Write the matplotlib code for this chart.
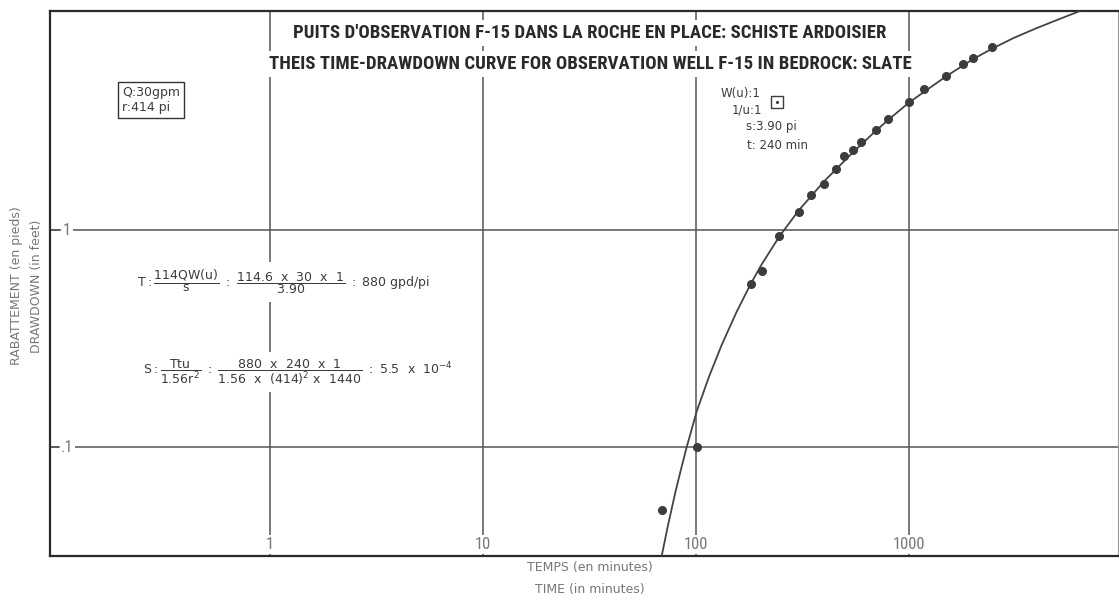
import matplotlib
matplotlib.use("Agg")
from matplotlib import pyplot as plt
from matplotlib import font_manager

# temps (minutes) et rabattement (pieds) mesurés au puits F-15
temps = [69, 100.7, 181, 203, 246, 303, 347, 399, 455, 494, 545, 592,
         700, 798, 1000, 1180, 1497, 1790, 2000, 2450]
rabattement = [0.0513, 0.100, 0.568, 0.65, 0.94, 1.215, 1.46, 1.63, 1.92, 2.20,
               2.35, 2.54, 2.91, 3.27, 3.90, 4.49, 5.14, 5.87, 6.24, 7.01]

# courbe type de Theis calée sur les mesures
courbe_t = [66, 69, 74, 80, 85, 90.4, 100.7, 115, 132, 155, 181, 203, 246, 303,
            399, 544, 700, 800, 1000, 1500, 2000, 2440, 3100, 3975, 5000, 6350, 9000]
courbe_s = [0.026, 0.0315, 0.044, 0.062, 0.079, 0.100, 0.146, 0.211, 0.296, 0.42,
            0.568, 0.694, 0.935, 1.232, 1.68, 2.28, 2.88, 3.23, 3.88, 5.14, 6.15,
            6.85, 7.70, 8.55, 9.35, 10.25, 11.8]

# point de calage W(u)=1, 1/u=1
match_t = 240
match_s = 3.90

xticks = [1, 10, 100, 1000]
xtick_labels = ["1", "10", "100", "1000"]
yticks = [0.1, 1]
ytick_labels = [".1", "1"]

available = {f.name for f in font_manager.fontManager.ttflist}
narrow = next((f for f in ["Liberation Sans Narrow", "Roboto Condensed", "DejaVu Sans"]
               if f in available), "DejaVu Sans")

ink = "#3c3c3c"
grid = "#555555"
white_box = dict(facecolor="white", edgecolor="none", pad=1.5)

fig = plt.figure(figsize=(11.19, 6.02), dpi=100)
ax = fig.add_axes([50 / 1119, 1 - 556 / 602, 1068 / 1119, 545 / 602])
ax.set_xscale("log")
ax.set_yscale("log")
ax.set_xlim(0.0927, 9575)
ax.set_ylim(0.0315, 10.25)

for v in xticks:
    ax.axvline(v, color=grid, lw=1.1, zorder=1)
for v in yticks:
    ax.axhline(v, color=grid, lw=1.1, zorder=1)

ax.set_xticks([])
ax.set_yticks([])
ax.minorticks_off()
for s in ax.spines.values():
    s.set_color("#2a2a2a")
    s.set_linewidth(1.6)
ax.spines["right"].set_color("#999999")
ax.spines["right"].set_linewidth(0.8)

ax.plot(courbe_t, courbe_s, color="#444444", lw=1.3, zorder=3)
ax.plot(temps, rabattement, "o", color=ink, ms=5.5, zorder=4)
ax.plot(match_t, match_s, "s", mfc="white", mec=ink, mew=1.0, ms=9, zorder=4)
ax.plot(match_t, match_s, ".", color=ink, ms=2.5, zorder=5)

# étiquettes des axes dessinées dans le cadre
for v, lab in zip(xticks, xtick_labels):
    ax.text(v, 0.021, lab, transform=ax.get_xaxis_transform(), ha="center", va="center",
            fontsize=12, family=narrow, color="#777777", bbox=white_box, zorder=2)
for v, lab in zip(yticks, ytick_labels):
    ax.text(0.016, v, lab, transform=ax.get_yaxis_transform(), ha="center", va="center",
            fontsize=12, family=narrow, color="#777777", bbox=white_box, zorder=2)
    ax.plot([0, 0.008], [v, v], transform=ax.get_yaxis_transform(), color=grid, lw=1.1)

title_kw = dict(transform=ax.transAxes, ha="center", va="center", fontsize=13.5,
                fontweight="bold", family=narrow, color="#2a2a2a", zorder=6,
                bbox=dict(facecolor="white", edgecolor="none", pad=3))
ax.text(0.5056, 0.9596, "PUITS D'OBSERVATION F-15 DANS LA ROCHE EN PLACE: SCHISTE ARDOISIER", **title_kw)
ax.text(0.5056, 0.9028, "THEIS TIME-DRAWDOWN CURVE FOR OBSERVATION WELL F-15 IN BEDROCK: SLATE", **title_kw)

ax.text(0.0674, 0.8367, "Q:30gpm\nr:414 pi", transform=ax.transAxes, ha="left", va="center",
        fontsize=9, color=ink, linespacing=1.2,
        bbox=dict(facecolor="white", edgecolor="#333333", lw=1.0, pad=3))

small = dict(transform=ax.transAxes, ha="left", va="center", fontsize=8.5, color=ink, zorder=6)
ax.text(0.628, 0.8495, "W(u):1", **small)
ax.text(0.6385, 0.8183, "1/u:1", **small)
ax.text(0.6516, 0.7872, "s:3.90 pi", **small)
ax.text(0.6526, 0.7523, "t: 240 min", **small)

plt.rcParams["mathtext.fontset"] = "dejavusans"
formula_kw = dict(transform=ax.transAxes, ha="left", va="center", fontsize=9, color=ink,
                  zorder=6, bbox=dict(facecolor="white", edgecolor="none", pad=4))
ax.text(0.0815, 0.5028,
        r"$\mathrm{T:}\dfrac{\mathrm{114QW(u)}}{\mathrm{s}}\ \mathrm{:}\ "
        r"\dfrac{\mathrm{114.6\ \ x\ \ 30\ \ x\ \ 1}}{\mathrm{3.90}}\ \mathrm{:\ 880\ gpd/pi}$",
        **formula_kw)
ax.text(0.0871, 0.3376,
        r"$\mathrm{S:}\dfrac{\mathrm{Ttu}}{\mathrm{1.56r^2}}\ \mathrm{:}\ "
        r"\dfrac{\mathrm{880\ \ x\ \ 240\ \ x\ \ 1}}{\mathrm{1.56\ \ x\ \ (414)^2\ x\ \ 1440}}"
        r"\ \mathrm{:\ 5.5\ \ x\ \ 10^{-4}}$",
        **formula_kw)

label_kw = dict(fontsize=9, color="#777777", ha="center", va="center")
fig.text(0.0143, 0.525, "RABATTEMENT (en pieds)", rotation=90, **label_kw)
fig.text(0.033, 0.525, "DRAWDOWN (in feet)", rotation=90, **label_kw)
fig.text(0.527, 0.0565, "TEMPS (en minutes)", **label_kw)
fig.text(0.527, 0.020, "TIME (in minutes)", **label_kw)

fig.savefig("out.png", dpi=100, facecolor="white")
